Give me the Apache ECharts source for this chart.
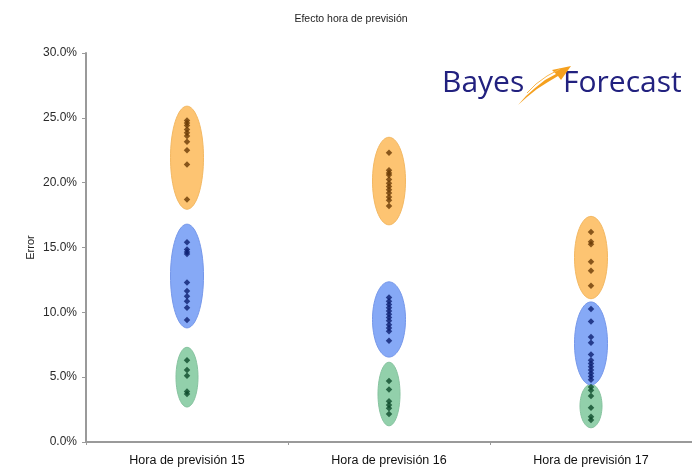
<!DOCTYPE html>
<html>
<head>
<meta charset="utf-8">
<script src="https://cdn.jsdelivr.net/npm/echarts@6/dist/echarts.min.js"></script>
<style>
  html, body { margin: 0; padding: 0; background: #fff; }
  #chart { width: 692px; height: 468px; }
</style>
</head>
<body>
<div id="chart"></div>
<script>
// Forecast-hour categories
var categories = ['Hora de previsión 15', 'Hora de previsión 16', 'Hora de previsión 17'];

// Error values (%) per forecast hour, one list per group
var orangeErrors = [
  [24.8, 24.6, 24.4, 24.1, 23.85, 23.6, 23.15, 22.5, 21.4, 18.7],
  [22.3, 20.95, 20.75, 20.6, 20.25, 19.95, 19.7, 19.45, 19.2, 18.9, 18.65, 18.2],
  [16.2, 15.45, 15.25, 13.9, 13.2, 12.05]
];
var blueErrors = [
  [15.4, 14.85, 14.65, 14.5, 12.3, 11.65, 11.25, 10.85, 10.35, 9.4],
  [11.15, 10.85, 10.6, 10.35, 10.1, 9.85, 9.6, 9.35, 9.05, 8.8, 8.55, 7.8],
  [10.25, 9.3, 8.1, 7.65, 6.75, 6.3, 6.05, 5.8, 5.55, 5.3, 5.05, 4.8]
];
var greenErrors = [
  [6.3, 5.55, 5.1, 3.9, 3.7],
  [4.7, 4.05, 3.15, 2.85, 2.6, 2.15],
  [4.25, 4.0, 3.55, 2.65, 1.95, 1.7]
];

// Vertical extent (%) of each group's highlight ellipse: [low, high]
var orangeBands = [[17.95, 25.9], [16.75, 23.5], [11.05, 17.4]];
var blueBands = [[8.8, 16.8], [6.55, 12.35], [4.4, 10.8]];
var greenBands = [[2.7, 7.3], [1.25, 6.15], [1.1, 4.45]];

// Y tick values (%)
var yTicks = { min: 0, max: 30, step: 5 };

function toPoints(groups) {
  var out = [];
  groups.forEach(function (vals, i) {
    vals.forEach(function (v) { out.push([i, v]); });
  });
  return out;
}
function toBands(bands) {
  return bands.map(function (b, i) { return [i, b[0], b[1]]; });
}

function ellipseSeries(bands, fill, edge, halfWidth) {
  return {
    type: 'custom',
    silent: true,
    z: 1,
    data: toBands(bands),
    renderItem: function (params, api) {
      var top = api.coord([api.value(0), api.value(2)]);
      var bot = api.coord([api.value(0), api.value(1)]);
      var cx = top[0], cy = (top[1] + bot[1]) / 2, ry = (bot[1] - top[1]) / 2;
      var pts = [];
      for (var k = 0; k < 72; k++) {
        var t = k / 72 * Math.PI * 2;
        pts.push([cx + halfWidth * Math.cos(t), cy + ry * Math.sin(t)]);
      }
      return {
        type: 'polygon',
        shape: { points: pts },
        style: { fill: fill, stroke: edge, lineWidth: 1 }
      };
    }
  };
}

function pointSeries(groups, color) {
  return {
    type: 'scatter',
    z: 3,
    symbol: 'diamond',
    symbolSize: 6.5,
    itemStyle: { color: color },
    data: toPoints(groups)
  };
}

var chart = echarts.init(document.getElementById('chart'), null, { renderer: 'canvas' });

chart.setOption({
  animation: false,
  backgroundColor: '#ffffff',
  textStyle: { fontFamily: 'Liberation Sans, Arial, sans-serif' },
  title: {
    text: 'Efecto hora de previsión',
    left: 346,
    textAlign: 'center',
    top: 9,
    textStyle: { fontSize: 10.5, fontWeight: 'normal', color: '#222' }
  },
  grid: { left: 86, right: 0, top: 53, bottom: 26 },
  xAxis: {
    type: 'category',
    data: categories,
    boundaryGap: true,
    axisLine: { lineStyle: { color: '#9a9a9a', width: 2 } },
    axisTick: { show: true, length: 3, lineStyle: { color: '#9a9a9a' } },
    axisLabel: { fontSize: 12.5, color: '#111', margin: 12 },
    splitLine: { show: false }
  },
  yAxis: {
    type: 'value',
    min: yTicks.min,
    max: yTicks.max,
    interval: yTicks.step,
    name: 'Error',
    nameLocation: 'middle',
    nameGap: 50,
    nameMoveOverlap: false,
    nameTextStyle: { fontSize: 11, color: '#222' },
    axisLine: { show: true, lineStyle: { color: '#9a9a9a', width: 2 } },
    axisTick: { show: true, length: 4, lineStyle: { color: '#9a9a9a' } },
    axisLabel: {
      fontSize: 12,
      color: '#2a2a2a',
      margin: 9,
      formatter: function (v) { return v.toFixed(1) + '%'; }
    },
    splitLine: { show: false }
  },
  graphic: [
    {
      type: 'text',
      x: 442,
      y: 68,
      z: 10,
      style: { text: 'Bayes', fontSize: 30, fontFamily: 'Open Sans, Noto Sans, sans-serif', fill: '#22217f' }
    },
    {
      type: 'text',
      x: 563,
      y: 68,
      z: 10,
      style: { text: 'Forecast', fontSize: 30, fontFamily: 'Open Sans, Noto Sans, sans-serif', fill: '#22217f' }
    },
    {
      type: 'polygon',
      z: 10,
      shape: {
        points: [[518, 105], [526, 96], [535, 88], [545, 80], [556, 74], [552, 70], [571, 66],
                 [561, 80], [558, 76], [548, 82], [537, 89], [527, 97]]
      },
      style: { fill: '#f5a01e' }
    },
    {
      type: 'polyline',
      z: 10,
      shape: { points: [[527, 93], [536, 84], [547, 76], [560, 69]] },
      style: { fill: null, stroke: '#f9b850', lineWidth: 1 }
    }
  ],
  series: [
    ellipseSeries(greenBands, '#92d0ab', '#86c39f', 11),
    ellipseSeries(blueBands, '#86a9f6', '#7597ea', 16.5),
    ellipseSeries(orangeBands, '#fdc472', '#f3b862', 16.5),
    pointSeries(greenErrors, '#0d4a2b'),
    pointSeries(blueErrors, '#0c1f72'),
    pointSeries(orangeErrors, '#6a3b05')
  ]
});
</script>
</body>
</html>
